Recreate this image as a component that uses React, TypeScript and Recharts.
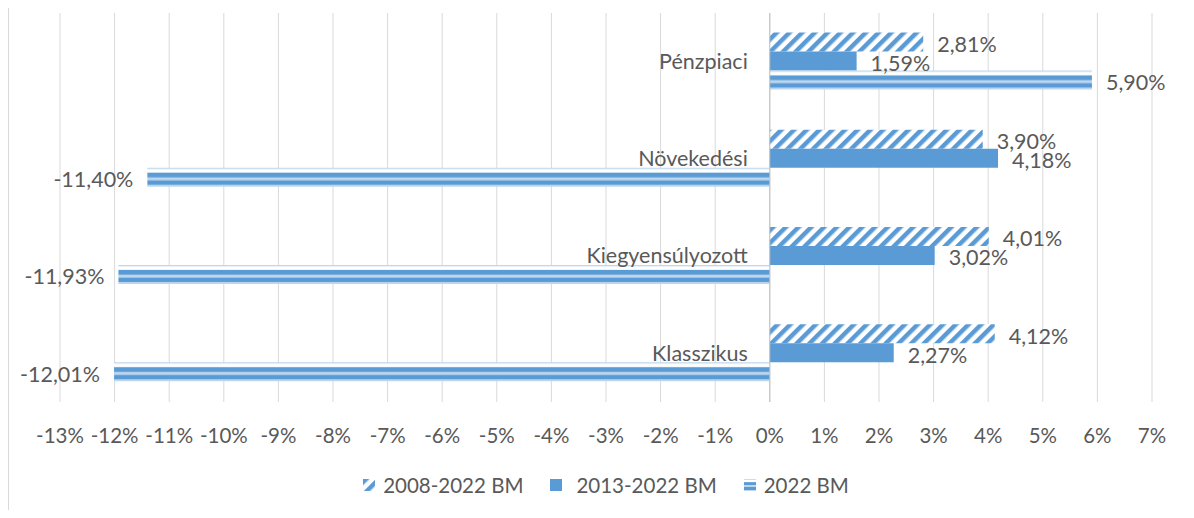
import { BarChart, Bar, XAxis, YAxis, CartesianGrid, ReferenceLine, LabelList, Legend } from "recharts";

const categories = ["Pénzpiaci", "Növekedési", "Kiegyensúlyozott", "Klasszikus"];
const bm2008 = [2.81, 3.9, 4.01, 4.12];
const bm2013 = [1.59, 4.18, 3.02, 2.27];
const bm2022 = [5.9, -11.4, -11.93, -12.01];
const xTicks = [-13, -12, -11, -10, -9, -8, -7, -6, -5, -4, -3, -2, -1, 0, 1, 2, 3, 4, 5, 6, 7];

const seriesNames = ["2008-2022 BM", "2013-2022 BM", "2022 BM"];

const BLUE = "#5B9BD5";
const LIGHT = "#BDD7EE";
const TEXT = "#595959";
const FONT = "Lato, 'Open Sans', sans-serif";

const data = categories.map((name, i) => ({
  name,
  a: bm2008[i],
  b: bm2013[i],
  c: bm2022[i],
}));

const fmt = (v: number) => `${v.toFixed(2).replace(".", ",")}%`;

function ValueLabel(props: any) {
  const { x, y, width, height, value } = props;
  const left = Math.min(x, x + width);
  const right = Math.max(x, x + width);
  const neg = value < 0;
  return (
    <text
      x={neg ? left - 14 : right + 14}
      y={y + height / 2 + 2}
      textAnchor={neg ? "end" : "start"}
      dominantBaseline="central"
      fill={TEXT}
      fontSize={21.5}
      fontFamily={FONT}
    >
      {fmt(value)}
    </text>
  );
}

function CategoryLabel(props: any) {
  const { x, y, height, value } = props;
  return (
    <text
      x={x - 22}
      y={y + height / 2}
      textAnchor="end"
      dominantBaseline="central"
      fill={TEXT}
      fontSize={21.5}
      fontFamily={FONT}
    >
      {value}
    </text>
  );
}

function Swatch({ kind }: { kind: number }) {
  const fill = kind === 0 ? "url(#hatch)" : kind === 1 ? BLUE : "url(#dbl)";
  return (
    <svg width={12} height={12} style={{ marginRight: kind === 1 ? 14 : 8 }}>
      <rect x={0} y={0} width={12} height={12} fill={fill} />
    </svg>
  );
}

function CustomLegend() {
  return (
    <div
      style={{
        display: "flex",
        justifyContent: "center",
        alignItems: "center",
        height: 30,
        fontFamily: FONT,
        fontSize: 20.5,
        color: TEXT,
      }}
    >
      {seriesNames.map((n, i) => (
        <div key={n} style={{ display: "flex", alignItems: "center", marginRight: i < 2 ? 27 : 0 }}>
          <Swatch kind={i} />
          <span>{n}</span>
        </div>
      ))}
    </div>
  );
}

export default function App() {
  return (
    <div style={{ width: 1185, height: 502, borderLeft: "1px solid #d9d9d9" }}>
      <BarChart
        width={1185}
        height={502}
        data={data}
        layout="vertical"
        margin={{ top: 5, right: 42, left: 51, bottom: 10 }}
        barCategoryGap="20%"
        barGap={0}
      >
        <defs>
          <pattern
            id="hatch"
            patternUnits="userSpaceOnUse"
            width={9}
            height={9}
            patternTransform="rotate(45)"
          >
            <rect x={0} y={0} width={9} height={9} fill="#ffffff" />
            <rect x={0} y={0} width={4.5} height={9} fill={BLUE} />
          </pattern>
          <pattern id="dbl" patternUnits="objectBoundingBox" patternContentUnits="objectBoundingBox" width={1} height={1}>
            <rect x={0} y={0} width={1} height={1} fill="#ffffff" />
            <rect x={0} y={0} width={1} height={0.07} fill={LIGHT} />
            <rect x={0} y={0.26} width={1} height={0.26} fill={BLUE} />
            <rect x={0} y={0.52} width={1} height={0.14} fill={LIGHT} />
            <rect x={0} y={0.66} width={1} height={0.26} fill={BLUE} />
            <rect x={0} y={0.92} width={1} height={0.08} fill={LIGHT} />
          </pattern>
        </defs>
        <CartesianGrid horizontal={false} stroke="#d9d9d9" />
        <XAxis
          type="number"
          domain={[-13, 7]}
          ticks={xTicks}
          interval={0}
          tickFormatter={(v) => `${v}%`}
          axisLine={false}
          tickLine={false}
          tickSize={0}
          tickMargin={26}
          height={68}
          tick={{ fill: TEXT, fontSize: 20.5, fontFamily: FONT }}
        />
        <YAxis type="category" dataKey="name" hide />
        <ReferenceLine x={0} stroke="#bfbfbf" />
        <Bar dataKey="a" name={seriesNames[0]} fill="url(#hatch)" isAnimationActive={false}>
          <LabelList dataKey="a" content={<ValueLabel />} />
        </Bar>
        <Bar dataKey="b" name={seriesNames[1]} fill={BLUE} isAnimationActive={false}>
          <LabelList dataKey="b" content={<ValueLabel />} />
          <LabelList dataKey="name" content={<CategoryLabel />} />
        </Bar>
        <Bar dataKey="c" name={seriesNames[2]} fill="url(#dbl)" isAnimationActive={false}>
          <LabelList dataKey="c" content={<ValueLabel />} />
        </Bar>
        <Legend verticalAlign="bottom" height={30} content={<CustomLegend />} />
      </BarChart>
    </div>
  );
}
